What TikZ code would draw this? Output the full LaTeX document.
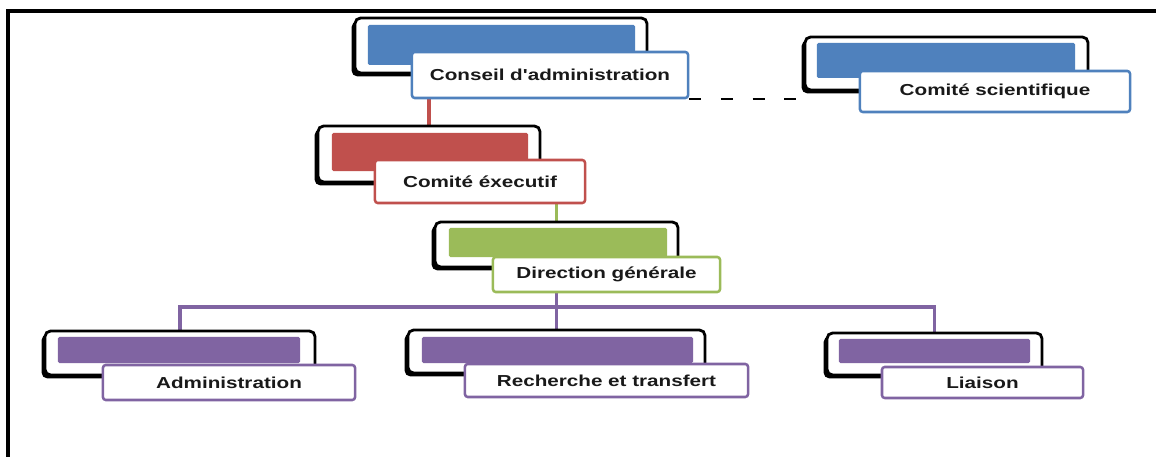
\documentclass[tikz,border=0pt]{standalone}
\usepackage{fontspec}
\newfontfamily\lblfont[FakeStretch=1.3]{Liberation Sans}
\usepackage{tikz}
\usetikzlibrary{shadows, calc, backgrounds}
\definecolor{ofblue}{RGB}{79,129,189}
\definecolor{ofred}{RGB}{192,80,77}
\definecolor{ofgreen}{RGB}{155,187,89}
\definecolor{ofpurple}{RGB}{128,100,162}

\begin{document}
\begin{tikzpicture}[
    x=0.025cm, y=-0.025cm,
    outerbox/.style={rectangle, rounded corners=4pt, draw=black, line width=2pt, fill=white,
                     drop shadow={shadow xshift=-2.4pt, shadow yshift=-2.4pt, fill=black, opacity=1},
                     inner sep=0pt},
    barbox/.style={rectangle, rounded corners=1pt, fill=#1, draw=none, inner sep=0pt},
    lblbox/.style={rectangle, rounded corners=2pt, draw=#1, line width=1.8pt, fill=white,
                   inner sep=0pt, font=\lblfont\bfseries\fontsize{11.3}{13}\selectfont, text=black!90},
    link/.style={draw=#1, line width=2.8pt},
    dashlink/.style={draw=black, line width=1.4pt, dash pattern=on 8.5pt off 14pt},
]
\useasboundingbox (0,0) rectangle (1156,457);

% --- frame (top and left edge only) ---
\draw[line width=2.8pt] (8,457) -- (8,11) -- (1156,11);

% --- Conseil d'administration ---
\node[outerbox, minimum width=7.3cm,   minimum height=1.375cm] (conseilOut)  at (501,45.5) {};
\node[barbox=ofblue, minimum width=6.675cm, minimum height=1.0cm] (conseilBar) at (501.5,45) {};
\node[lblbox=ofblue, minimum width=6.9cm, minimum height=1.15cm] (conseilLbl) at (550,75) {Conseil d'administration};

% --- Comité scientifique ---
\node[outerbox, minimum width=7.075cm, minimum height=1.325cm] (sciOut)  at (946.5,63.5) {};
\node[barbox=ofblue, minimum width=6.45cm, minimum height=0.875cm] (sciBar) at (946,60.5) {};
\node[lblbox=ofblue, minimum width=6.75cm, minimum height=1.025cm] (sciLbl) at (995,91.5) {Comité scientifique};

% --- Comité exécutif ---
\node[outerbox, minimum width=5.55cm, minimum height=1.4cm] (execOut)  at (429,154) {};
\node[barbox=ofred, minimum width=4.9cm, minimum height=0.95cm] (execBar) at (430,152) {};
\node[lblbox=ofred, minimum width=5.25cm, minimum height=1.075cm] (execLbl) at (480,181.5) {Comité éxecutif};

% --- Direction générale ---
\node[outerbox, minimum width=6.075cm, minimum height=1.125cm] (dirOut)  at (556.5,244.5) {};
\node[barbox=ofgreen, minimum width=5.45cm, minimum height=0.725cm] (dirBar) at (558,242.5) {};
\node[lblbox=ofgreen, minimum width=5.675cm, minimum height=0.875cm] (dirLbl) at (606.5,274.5) {Direction générale};

% --- Administration ---
\node[outerbox, minimum width=6.75cm, minimum height=1.1cm] (adminOut)  at (180,353) {};
\node[barbox=ofpurple, minimum width=6.05cm, minimum height=0.65cm] (adminBar) at (179,350) {};
\node[lblbox=ofpurple, minimum width=6.3cm, minimum height=0.875cm] (adminLbl) at (229,382.5) {Administration};

% --- Recherche et transfert ---
\node[outerbox, minimum width=7.425cm, minimum height=1.075cm] (rechOut)  at (556.5,351.5) {};
\node[barbox=ofpurple, minimum width=6.775cm, minimum height=0.65cm] (rechBar) at (557.5,350) {};
\node[lblbox=ofpurple, minimum width=7.075cm, minimum height=0.825cm] (rechLbl) at (606.5,380.5) {Recherche et transfert};

% --- Liaison ---
\node[outerbox, minimum width=5.375cm, minimum height=1.05cm] (liaisonOut)  at (934.5,354) {};
\node[barbox=ofpurple, minimum width=4.775cm, minimum height=0.6cm] (liaisonBar) at (934.5,351) {};
\node[lblbox=ofpurple, minimum width=5.025cm, minimum height=0.775cm] (liaisonLbl) at (982.5,382.5) {Liaison};

% --- connectors (behind the boxes) ---
\coordinate (bar) at (557,307);
\begin{scope}[on background layer]
  \draw[link=ofred]    (execOut.north) -- (execOut.north |- conseilLbl.south);
  \draw[link=ofgreen]  (dirOut.north |- execLbl.south) -- (dirOut.north);
  \draw[link=ofpurple] (dirLbl.south -| rechOut.north) -- (rechOut.north);
  \draw[link=ofpurple] (adminOut.north) |- (bar) -| (liaisonOut.north);
\end{scope}

% --- dashed link to the scientific committee ---
\draw[dashlink] (conseilLbl.south east) -- (conseilLbl.south east -| sciOut.west);
\end{tikzpicture}
\end{document}
